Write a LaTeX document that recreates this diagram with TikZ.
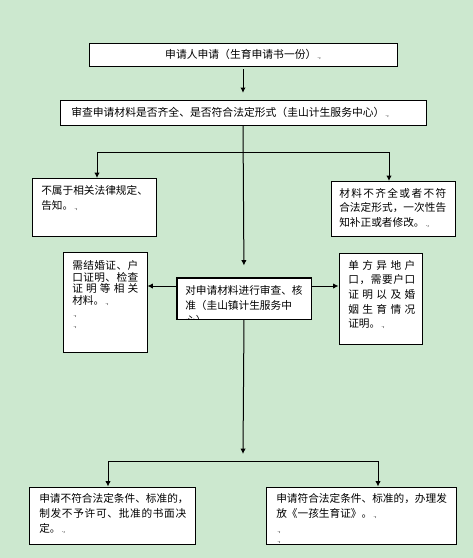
\documentclass[tikz,border=0pt]{standalone}
\usepackage{fontspec}
\setmainfont{Noto Sans CJK SC}
\usetikzlibrary{arrows.meta,fit}
\definecolor{bg}{RGB}{204,232,207}
\newcommand{\pmk}{{\fontsize{4.5}{4.5}\selectfont\,.,}}
\begin{document}
\begin{tikzpicture}[x=0.75pt,y=-0.75pt,
  box/.style={draw,line width=0.75pt,inner sep=0pt,fill=white},
  txt/.style={anchor=north west,inner sep=0pt,align=left},
  arr/.style={line width=0.75pt,-{Latex[length=4pt,width=4pt]}},
  ln/.style={line width=0.75pt}]
\fill[bg] (0,0) rectangle (473,558);
\useasboundingbox (0,0) rectangle (473,558);

% boxes
\node[box,fit={(89,43)(397,66)}] (b1) {};
\node[box,fit={(60,100)(426,125)}] (b2) {};
\node[box,fit={(32,178)(156,236)}] (L1) {};
\node[box,fit={(331,181)(455,236)}] (R1) {};
\node[box,fit={(63,252)(147,352)}] (L2) {};
\node[box,fit={(177,278)(311,319)}] (c) {};
\node[box,fit={(339,253)(422,344)}] (R2) {};
\node[box,fit={(29,487)(195,544)}] (BL) {};
\node[box,fit={(266,487)(456,544)}] (BR) {};

% texts
\node[inner sep=0pt,font=\fontsize{8.1}{10}\selectfont] (t1) at (b1.center) {申请人申请（生育申请书一份）\pmk};
\node[inner sep=0pt,anchor=west,font=\fontsize{8.1}{10}\selectfont] (t2) at (71,112) {审查申请材料是否齐全、是否符合法定形式（圭山计生服务中心）\pmk};
\node[txt,font=\fontsize{8}{11.25}\selectfont] (tL1) at (41,185) {不属于相关法律规定、\\告知。\pmk};
\node[txt,font=\fontsize{8}{10.9}\selectfont] (tR1) at (339,188)
  {\makebox[80.25pt][s]{材\hfill 料\hfill 不\hfill 齐\hfill 全\hfill 或\hfill 者\hfill 不\hfill 符}\\
   \makebox[80.25pt][s]{合\hfill 法\hfill 定\hfill 形\hfill 式\hfill ，\hfill 一\hfill 次\hfill 性\hfill 告}\\
   知补正或者修改。\pmk};
\node[txt,font=\fontsize{8}{8.8}\selectfont] (tL2) at (72,260)
  {\makebox[49.5pt][s]{需\hfill 结\hfill 婚\hfill 证\hfill 、\hfill 户}\\
   \makebox[49.5pt][s]{口\hfill 证\hfill 明\hfill 、\hfill 检\hfill 查}\\
   \makebox[49.5pt][s]{证\hfill 明\hfill 等\hfill 相\hfill 关}\\
   材料。\pmk\\ \pmk\\ \pmk};
\begin{scope}
\clip (c.north west) rectangle (c.south east);
\node[txt,font=\fontsize{8}{11.5}\selectfont] (tc) at (185,285)
  {对申请材料进行审查、核\\准（圭山镇计生服务中\\心）\pmk};
\end{scope}
\draw[line width=0.75pt] (c.north west) rectangle (c.south east);
\node[txt,font=\fontsize{8}{10.95}\selectfont] (tR2) at (348,260)
  {\makebox[50.25pt][s]{单\hfill 方\hfill 异\hfill 地\hfill 户}\\
   \makebox[50.25pt][s]{口\hfill ，\hfill 需\hfill 要\hfill 户\hfill 口}\\
   \makebox[50.25pt][s]{证\hfill 明\hfill 以\hfill 及\hfill 婚}\\
   \makebox[50.25pt][s]{姻\hfill 生\hfill 育\hfill 情\hfill 况}\\
   证明。\pmk};
\node[txt,font=\fontsize{8}{11.5}\selectfont] (tBL) at (39,493)
  {申请不符合法定条件、标准的，\\
   \makebox[110.25pt][s]{制\hfill 发\hfill 不\hfill 予\hfill 许\hfill 可\hfill 、\hfill 批\hfill 准\hfill 的\hfill 书\hfill 面\hfill 决}\\
   定。\pmk};
\node[txt,font=\fontsize{8}{11.5}\selectfont] (tBR) at (276,493)
  {申请符合法定条件、标准的，办理发\\放《一孩生育证》。\pmk\\ \pmk\\[-4pt] \pmk};

% connectors
\draw[arr,shorten <=2pt,shorten >=5pt] (b1.south) -- (b2.north);
\coordinate (j1) at (243,152);
\coordinate (aL1) at (97,178);
\coordinate (aR1) at (389,181);
\draw[arr] (j1) -| (aL1);
\draw[arr] (j1) -| (aR1);
\draw[arr,shorten >=9pt] (b2.south) -- (c.north);
\coordinate (cl) at (177,286);
\coordinate (cr) at (311,286);
\draw[arr] (cl) -- (cl -| L2.east);
\draw[arr] (cr) -- (cr -| R2.west);
\coordinate (j2) at (243,454);
\draw[arr] (c.south) -- (j2);
\coordinate (hL) at (108,461);
\coordinate (hR) at (378,461);
\draw[ln] (hL) -- (hR);
\draw[arr] (hL) -- (hL |- BL.north);
\draw[arr] (hR) -- (hR |- BR.north);
\end{tikzpicture}
\end{document}
